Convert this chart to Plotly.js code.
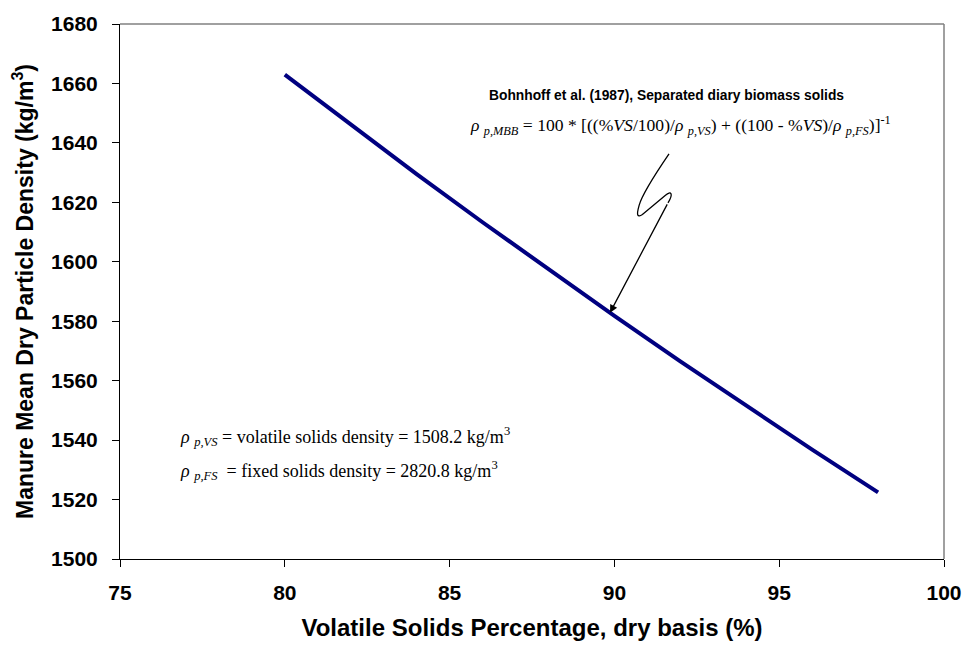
<!DOCTYPE html>
<html>
<head>
<meta charset="utf-8">
<script src="https://cdn.plot.ly/plotly-3.0.1.min.js"></script>
<style>
  html, body { margin: 0; padding: 0; background: #fff; }
  #chart { width: 965px; height: 645px; }
</style>
</head>
<body>
<div id="chart"></div>
<script>
// Volatile solids percentage (dry basis) and the resulting mean dry particle density
const vsPercent = [80, 82, 84, 86, 88, 90, 92, 94, 96, 98];
const particleDensity = [1663.0, 1646.1, 1629.5, 1613.3, 1597.4, 1581.8, 1566.5, 1551.5, 1536.8, 1522.4];

const xTicks = [75, 80, 85, 90, 95, 100];
const yTicks = [1500, 1520, 1540, 1560, 1580, 1600, 1620, 1640, 1660, 1680];

// Component densities quoted in the notes
const rhoVS = 1508.2;
const rhoFS = 2820.8;

const arial = 'Arial, "Liberation Sans", sans-serif';
const times = '"Times New Roman", "Liberation Serif", serif';

const trace = {
  x: vsPercent,
  y: particleDensity,
  type: 'scatter',
  mode: 'lines',
  line: { color: '#000080', width: 4 },
  hoverinfo: 'x+y',
  showlegend: false
};

// Zig-zag leader from the label down to the curve (data coordinates)
const leaderPath = 'M 91.657,1636.30 C 91.30,1630.5 90.85,1623.0 90.75,1619.0 ' +
                   'C 90.66,1615.5 90.70,1614.8 90.85,1615.9 L 91.55,1622.4 ' +
                   'C 91.72,1624.0 91.80,1623.0 91.626,1619.83';

const bold = v => '<b>' + v + '</b>';

const layout = {
  width: 965,
  height: 645,
  margin: { l: 120, r: 21, t: 24, b: 86 },
  paper_bgcolor: '#ffffff',
  plot_bgcolor: '#ffffff',
  font: { family: arial, color: '#000' },
  xaxis: {
    range: [75, 100],
    tickvals: xTicks,
    ticktext: xTicks.map(bold),
    ticks: 'outside',
    ticklen: 7,
    tickwidth: 1,
    tickcolor: '#000',
    ticklabelstandoff: 8,
    showgrid: false,
    zeroline: false,
    showline: true,
    linecolor: '#000',
    linewidth: 1,
    tickfont: { family: arial, size: 21, color: '#000' },
    title: {
      text: '<b>Volatile Solids Percentage, dry basis (%)</b>',
      font: { family: arial, size: 24, color: '#000' },
      standoff: 15
    }
  },
  yaxis: {
    range: [1500, 1680],
    tickvals: yTicks,
    ticktext: yTicks.map(bold),
    ticks: 'outside',
    ticklen: 7,
    tickwidth: 1,
    tickcolor: '#000',
    ticklabelstandoff: 10,
    showgrid: false,
    zeroline: false,
    showline: true,
    linecolor: '#000',
    linewidth: 1,
    tickfont: { family: arial, size: 21, color: '#000' },
    title: {
      text: '<b>Manure Mean Dry Particle Density (kg/m<sup>3</sup>)</b>',
      font: { family: arial, size: 23, color: '#000' },
      standoff: 11
    }
  },
  shapes: [
    { type: 'line', xref: 'paper', yref: 'paper', x0: 0, x1: 1, y0: 1, y1: 1,
      line: { color: '#808080', width: 1.5 } },
    { type: 'line', xref: 'paper', yref: 'paper', x0: 1, x1: 1, y0: 0, y1: 1,
      line: { color: '#808080', width: 1.5 } },
    { type: 'path', xref: 'x', yref: 'y', path: leaderPath,
      line: { color: '#000', width: 1.3 } }
  ],
  annotations: [
    {
      xref: 'x', yref: 'y', x: 86.14, y: 1656.1,
      xanchor: 'left', yanchor: 'middle', showarrow: false,
      text: '<b>Bohnhoff et al. (1987), Separated diary biomass solids</b>',
      font: { family: arial, size: 13.8, color: '#000' }
    },
    {
      xref: 'x', yref: 'y', x: 85.56, y: 1646.0,
      xanchor: 'left', yanchor: 'middle', showarrow: false,
      text: '<i>ρ</i> <sub><i>p,MBB</i></sub> = 100 * [((%<i>VS</i>/100)/<i>ρ</i> <sub><i>p,VS</i></sub>) + ((100 - %<i>VS</i>)/<i>ρ</i> <sub><i>p,FS</i></sub>)]<sup>-1</sup>',
      font: { family: times, size: 17.6, color: '#000' }
    },
    {
      xref: 'x', yref: 'y', x: 89.867, y: 1582.86,
      axref: 'x', ayref: 'y', ax: 91.626, ay: 1619.83,
      showarrow: true, arrowhead: 2, arrowsize: 1.2, arrowwidth: 1.3,
      arrowcolor: '#000', text: ''
    },
    {
      xref: 'x', yref: 'y', x: 76.76, y: 1541.2,
      xanchor: 'left', yanchor: 'middle', showarrow: false,
      text: '<i>ρ</i> <sub><i>p,VS</i></sub> = volatile solids density = ' + rhoVS.toFixed(1) + ' kg/m<sup>3</sup>',
      font: { family: times, size: 18, color: '#000' }
    },
    {
      xref: 'x', yref: 'y', x: 76.76, y: 1529.9,
      xanchor: 'left', yanchor: 'middle', showarrow: false,
      text: '<i>ρ</i> <sub><i>p,FS</i></sub>  = fixed solids density = ' + rhoFS.toFixed(1) + ' kg/m<sup>3</sup>',
      font: { family: times, size: 18, color: '#000' }
    }
  ]
};

Plotly.newPlot('chart', [trace], layout, { displayModeBar: false, staticPlot: true });
</script>
</body>
</html>
